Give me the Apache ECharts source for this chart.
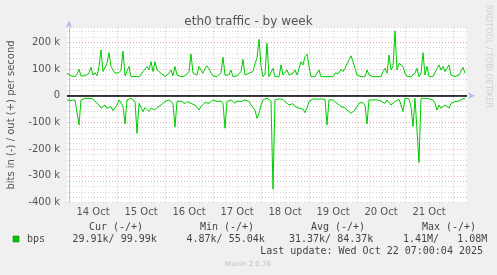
<!DOCTYPE html>
<html>
<head>
<meta charset="utf-8">
<script src="https://cdn.jsdelivr.net/npm/echarts@6/dist/echarts.min.js"></script>
<style>
html,body{margin:0;padding:0;background:#f0f0f0;}
#c{width:497px;height:275px;}
</style>
</head>
<body>
<div id="c"></div>
<script>
// hours since Oct 14 00:00, first sample at hour -1, one sample per hour
var startHour = -1;
var dayLabels = ['14 Oct','15 Oct','16 Oct','17 Oct','18 Oct','19 Oct','20 Oct','21 Oct'];
var yTicks = [200000, 100000, 0, -100000, -200000, -300000, -400000];
// out (+) bits per second, in k
var outK = [84,77,74,75,71,81,99,74,71,74,71,84,106,77,86,74,109,171,90,84,
121,161,109,115,84,77,86,96,167,74,71,109,71,71,72,71,70,71,90,84,
109,96,127,90,127,96,90,84,77,71,74,84,96,74,109,77,71,71,71,74,
71,90,156,84,86,77,109,96,84,102,111,102,84,74,71,71,74,86,144,77,
84,77,96,71,71,74,71,90,136,77,77,84,86,90,121,140,211,111,71,80,
196,71,71,102,71,71,71,115,77,71,96,77,71,84,96,77,80,127,115,146,
156,109,71,71,71,71,96,71,71,71,71,71,71,71,84,90,84,99,90,102,
109,134,149,127,102,77,71,71,71,71,96,77,84,71,71,71,74,71,90,102,
84,152,96,109,242,96,121,127,109,84,71,71,71,71,84,102,71,84,161,77,
109,71,71,71,71,102,115,96,109,90,96,115,77,84,71,65,77,84,106,84];
// in (-) bits per second, in k (magnitude)
var inK = [16,14,18,12,16,20,110,16,12,10,14,10,16,12,22,28,35,47,40,35,
48,54,41,56,45,35,16,22,40,106,16,12,10,16,22,141,29,35,60,45,
41,60,47,54,53,45,47,35,28,22,16,16,18,30,118,22,26,20,25,30,
22,28,29,26,35,30,54,40,35,26,22,29,24,16,18,22,16,20,29,122,
22,20,16,22,29,20,16,22,18,16,20,22,35,45,54,85,66,35,16,12,
10,16,20,350,16,16,12,16,14,22,29,35,29,30,41,45,47,54,50,64,
47,22,16,12,10,14,10,12,16,14,110,16,14,16,22,29,35,41,47,45,
54,60,66,66,54,41,28,22,26,35,106,16,22,16,18,16,22,20,18,29,
16,22,35,28,22,16,14,35,60,10,10,12,41,116,10,10,250,10,12,10,
14,12,10,16,30,54,35,47,41,35,41,47,29,26,22,22,20,16,12,10];

var outData = outK.map(function(v,i){return [startHour+i, v*1000];});
var inData = inK.map(function(v,i){return [startHour+i, -v*1000];});

var minorV = [], majorV = [];
for (var h = 6; h <= 198; h += 6) {
  if (h % 24 === 0) majorV.push({xAxis: h}); else minorV.push({xAxis: h});
}
var labelHours = dayLabels.map(function(d,i){return 12 + 24*i;});

var chart = echarts.init(document.getElementById('c'), null, {renderer:'canvas'});
var green = '#00cc00';
var axisColor = '#555555';
var font = 'DejaVu Sans';
var option = {
  backgroundColor: '#f0f0f0',
  animation: false,
  title: {
    text: 'eth0 traffic - by week',
    left: 'center', top: 11,
    textStyle: {fontFamily: font, fontSize: 12, fontWeight: 'normal', color: '#555555'}
  },
  grid: {left: 67, top: 27.5, width: 400, height: 175, backgroundColor: '#ffffff', show: true, borderWidth: 0,
         outerBoundsMode: 'none', containLabel: false},
  xAxis: {
    type: 'value', min: -1, max: 199,
    axisLine: {show: true, lineStyle: {color: '#b8b8f0', width: 1}, symbol: ['none','arrow'], symbolSize: [5, 7], symbolOffset: [0, 8]},
    axisTick: {show: false},
    splitLine: {show: false},
    axisLabel: {
      customValues: labelHours,
      formatter: function(v){ var i = Math.round((v-12)/24); return dayLabels[i] || ''; },
      color: axisColor, fontFamily: font, fontSize: 10, margin: 5
    }
  },
  yAxis: [{
    type: 'value', min: -400000, max: 255000, interval: 20000,
    axisLine: {show: true, lineStyle: {color: '#b8b8f0'}, symbol: ['none','arrow'], symbolSize: [5, 7], symbolOffset: [0, 7]},
    axisTick: {show: false}, axisLabel: {show: false},
    splitLine: {show: true, lineStyle: {color: '#d4d4d4', type: [1, 2], width: 1}},
    name: 'bits in (-) / out (+) per second', nameLocation: 'middle', nameGap: 51,
    nameTextStyle: {fontFamily: font, fontSize: 10, color: axisColor}
  }, {
    type: 'value', min: -400000, max: 255000, interval: 100000, position: 'left',
    axisLine: {show: false}, axisTick: {show: false},
    axisLabel: {
      customValues: yTicks,
      formatter: function(v){ if (v === 0) return '0'; return (v/1000) + ' k'; },
      color: axisColor, fontFamily: font, fontSize: 10, margin: 7
    },
    splitLine: {show: false}
  }],
  series: [{
    type: 'line', data: [], z: 1, silent: true,
    markLine: {
      silent: true, symbol: 'none', label: {show: false}, z: 1, animation: false,
      data: minorV.map(function(d){return Object.assign({lineStyle: {color: '#d4d4d4', type: [1,2], width: 1}}, d);})
        .concat(majorV.map(function(d){return Object.assign({lineStyle: {color: '#eeaaaa', type: [1,2], width: 1}}, d);}))
        .concat([100000, 200000, -100000, -200000, -300000].map(function(v){return {yAxis: v, lineStyle: {color: '#eeaaaa', type: [1,2], width: 1}};}))
    }
  }, {
    name: 'out', type: 'line', data: outData, showSymbol: false, z: 3,
    lineStyle: {color: green, width: 1}, itemStyle: {color: green},
    markLine: {silent: true, symbol: 'none', label: {show: false}, data: [{yAxis: 0}], lineStyle: {color: '#000000', width: 1.5, type: 'solid'}}
  }, {
    name: 'in', type: 'line', data: inData, showSymbol: false, z: 3,
    lineStyle: {color: green, width: 1}, itemStyle: {color: green}
  }],
  graphic: [
    {type: 'text', left: 484, top: 5, rotation: -Math.PI/2, style: {text: 'RRDTOOL / TOBI OETIKER', fill: '#d0d0d0', font: '8px "DejaVu Sans"'}},
    {type: 'rect', shape: {x: 13, y: 236, width: 6, height: 6}, style: {fill: green, stroke: '#006600', lineWidth: 0.5}},
    {type: 'text', x: 27, y: 239, style: {text: 'bps', fill: '#444', font: '10px "DejaVu Sans Mono"', textVerticalAlign: 'middle'}},
    {type: 'text', x: 116, y: 227, style: {text: 'Cur (-/+)', fill: '#444', font: '10px "DejaVu Sans Mono"', textAlign: 'center', textVerticalAlign: 'middle'}},
    {type: 'text', x: 227, y: 227, style: {text: 'Min (-/+)', fill: '#444', font: '10px "DejaVu Sans Mono"', textAlign: 'center', textVerticalAlign: 'middle'}},
    {type: 'text', x: 338, y: 227, style: {text: 'Avg (-/+)', fill: '#444', font: '10px "DejaVu Sans Mono"', textAlign: 'center', textVerticalAlign: 'middle'}},
    {type: 'text', x: 449, y: 227, style: {text: 'Max (-/+)', fill: '#444', font: '10px "DejaVu Sans Mono"', textAlign: 'center', textVerticalAlign: 'middle'}},
    {type: 'text', x: 72.5, y: 239, style: {text: '29.91k/ 99.99k', fill: '#444', font: '10px "DejaVu Sans Mono"', textVerticalAlign: 'middle'}},
    {type: 'text', x: 186.5, y: 239, style: {text: '4.87k/ 55.04k', fill: '#444', font: '10px "DejaVu Sans Mono"', textVerticalAlign: 'middle'}},
    {type: 'text', x: 289, y: 239, style: {text: '31.37k/ 84.37k', fill: '#444', font: '10px "DejaVu Sans Mono"', textVerticalAlign: 'middle'}},
    {type: 'text', x: 403, y: 239, style: {text: '1.41M/   1.08M', fill: '#444', font: '10px "DejaVu Sans Mono"', textVerticalAlign: 'middle'}},
    {type: 'text', x: 483, y: 251, style: {text: 'Last update: Wed Oct 22 07:00:04 2025', fill: '#444', font: '10px "DejaVu Sans Mono"', textAlign: 'right', textVerticalAlign: 'middle'}},
    {type: 'text', x: 248, y: 264, style: {text: 'Munin 2.0.76', fill: '#c0c0c0', font: '7px "DejaVu Sans"', textAlign: 'center', textVerticalAlign: 'middle'}}
  ]
};
chart.setOption(option);
</script>
</body>
</html>
